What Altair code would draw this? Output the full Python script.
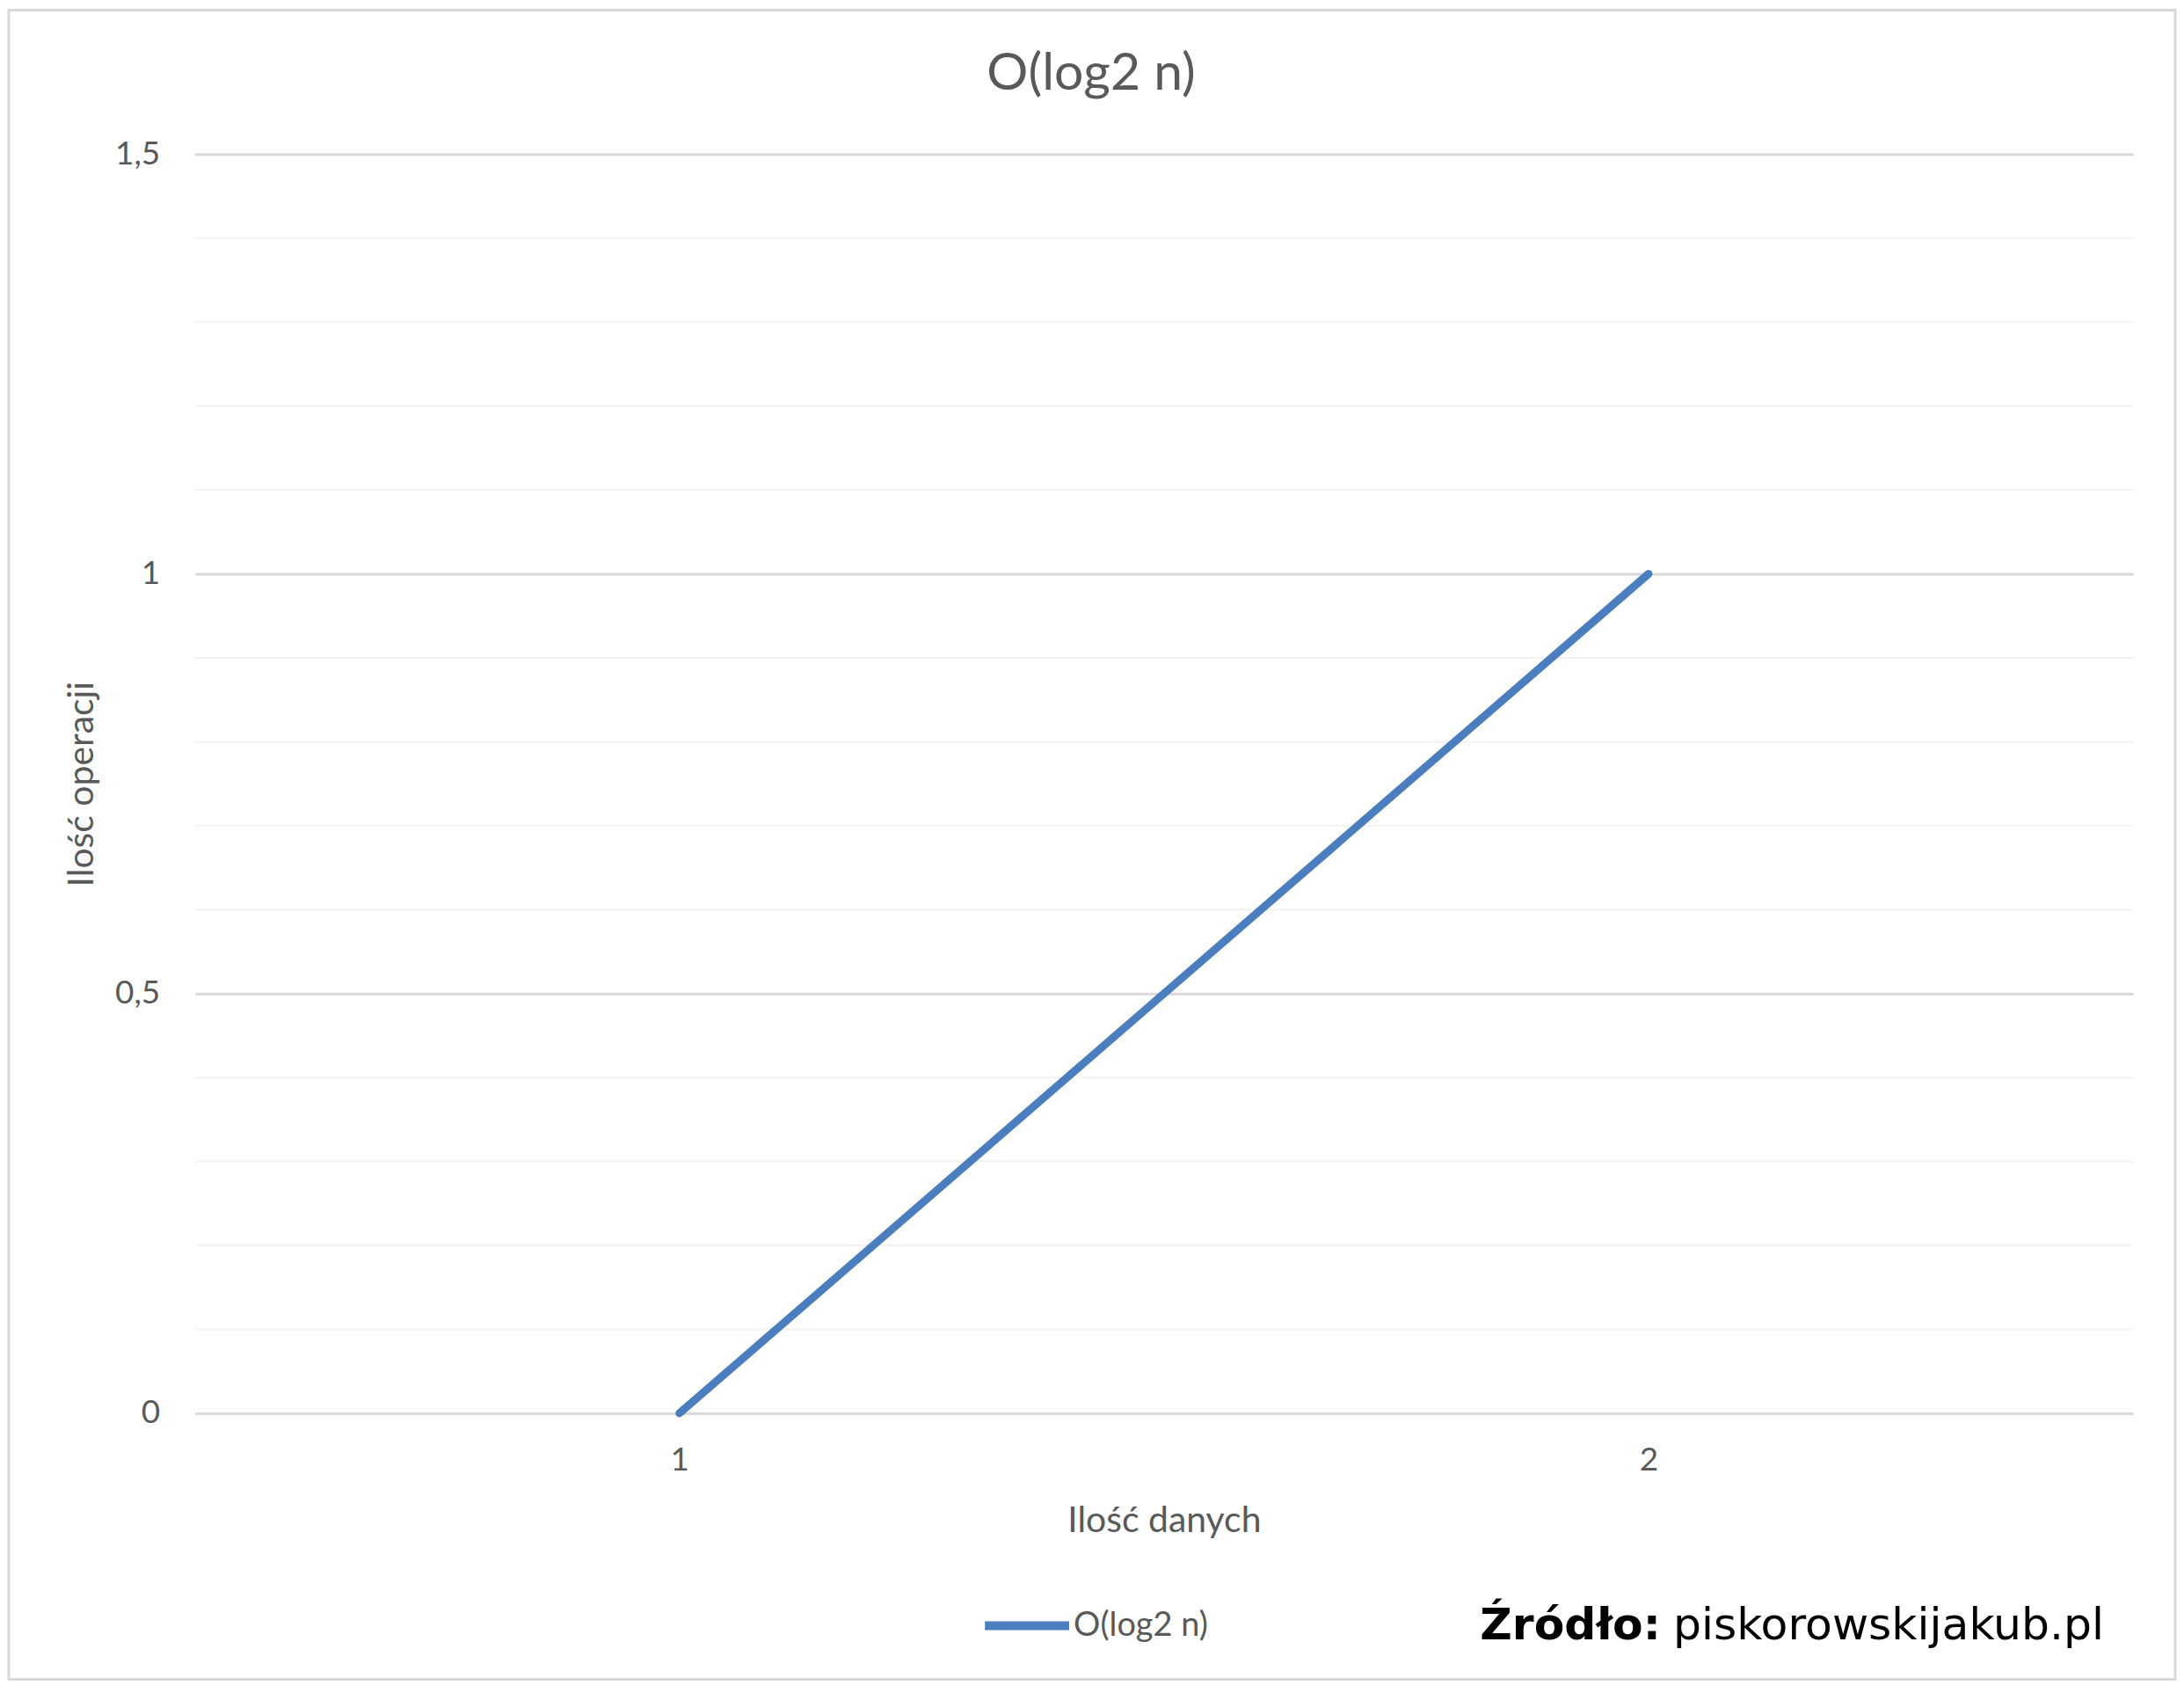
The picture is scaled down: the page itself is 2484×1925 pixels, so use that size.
import pandas as pd
import altair as alt

# Chart values
data_sizes = ["1", "2"]
operations = [0, 1]
series_name = "O(log2 n)"
y_major = [0, 0.5, 1, 1.5]
y_minor = [0.1, 0.2, 0.3, 0.4, 0.6, 0.7, 0.8, 0.9, 1.1, 1.2, 1.3, 1.4]
source_bold = "Źródło:"
source_site = "piskorowskijakub.pl"

TEXT = "#595959"
BLUE = "#4a7ebf"
FONT = "Lato"

df = pd.DataFrame({"n": data_sizes, "ops": operations, "series": [series_name] * len(data_sizes)})
df_minor = pd.DataFrame({"v": y_minor})
df_title = pd.DataFrame({"t": [series_name]})
df_bold = pd.DataFrame({"t": [source_bold]})
df_site = pd.DataFrame({"t": [source_site]})

y_scale = alt.Scale(domain=[0, 1.5], nice=False)
y_axis = alt.Axis(values=y_major, format="~g",
                  labelExpr="replace(datum.label, '.', ',')",
                  domain=False, ticks=False, grid=True,
                  gridColor="#d9d9d9", gridWidth=3,
                  labelFontSize=37, labelColor=TEXT, labelPadding=40,
                  titleFontSize=41, titleColor=TEXT, titleFontWeight="normal",
                  titleAngle=-90, titleAlign="center", titleBaseline="alphabetic",
                  titleX=-116, titleY=717)

# light minor gridlines
minor = alt.Chart(df_minor).mark_rule(color="#f2f2f2", strokeWidth=2).encode(
    y=alt.Y("v:Q", title="Ilość operacji", scale=y_scale, axis=y_axis)
)

line = alt.Chart(df).mark_line(strokeWidth=9, strokeCap="round").encode(
    x=alt.X("n:O", title="Ilość danych",
            scale=alt.Scale(type="point", padding=0.5),
            axis=alt.Axis(labelAngle=0, domain=False, ticks=False, grid=False,
                          labelFontSize=37, labelColor=TEXT, labelPadding=36,
                          titleFontSize=41, titleColor=TEXT, titleFontWeight="normal",
                          titleBaseline="alphabetic", titleY=135)),
    y=alt.Y("ops:Q", title="Ilość operacji", scale=y_scale, axis=y_axis),
    color=alt.Color("series:N", scale=alt.Scale(range=[BLUE]),
                    legend=alt.Legend(title=None, orient="none", legendX=895, legendY=1623,
                                      symbolType="stroke", symbolSize=9216,
                                      symbolStrokeWidth=10, labelFontSize=38,
                                      labelColor=TEXT, labelOffset=0, padding=0))
)

title = alt.Chart(df_title).mark_text(
    font=FONT, fontSize=59, color=TEXT, align="center", baseline="alphabetic"
).encode(x=alt.value(1021), y=alt.value(-73), text="t:N")

src_bold = alt.Chart(df_bold).mark_text(
    font="DejaVu Sans", fontSize=50.5, fontWeight="bold", color="black",
    align="left", baseline="alphabetic"
).encode(x=alt.value(1464), y=alt.value(1691), text="t:N")

src_site = alt.Chart(df_site).mark_text(
    font="DejaVu Sans", fontSize=50.5, color="black",
    align="left", baseline="alphabetic"
).encode(x=alt.value(1684), y=alt.value(1691), text="t:N")

# outer chart border
border = alt.Chart(df_bold).mark_rect(fill="white", fillOpacity=0, stroke="#d9d9d9", strokeWidth=3).encode(
    x=alt.value(-212), x2=alt.value(2256), y=alt.value(-164), y2=alt.value(1737)
)

chart = alt.layer(border, minor, line, title, src_bold, src_site).properties(
    width=2208,
    height=1434,
    autosize=alt.AutoSizeParams(type="none"),
    padding={"left": 214, "top": 166, "right": 50, "bottom": 305},
).configure(font=FONT).configure_view(stroke=None)

chart.save("out.html", embed_options={"renderer": "svg", "actions": False})
